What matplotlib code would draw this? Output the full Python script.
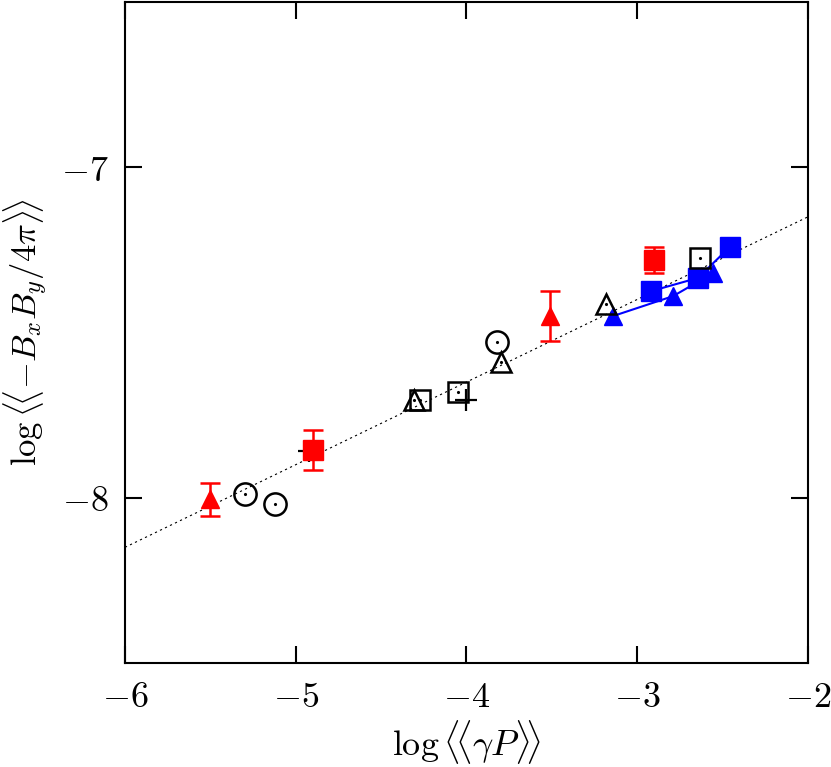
import numpy as np
import matplotlib
matplotlib.use("Agg")
import matplotlib.pyplot as plt

plt.rcParams['mathtext.fontset'] = 'cm'
plt.rcParams['font.family'] = 'serif'
plt.rcParams['font.serif'] = ['DejaVu Serif']

# red filled points with error bars
red_tri_x = [-5.50, -3.51]
red_tri_y = [-8.005, -7.45]
red_tri_err = [0.05, 0.075]
red_sq_x = [-4.90, -2.90]
red_sq_y = [-7.855, -7.28]
red_sq_err = [0.06, 0.04]

# black open points
circ_x = [-5.30, -5.12, -3.82]
circ_y = [-7.99, -8.02, -7.53]
otri_x = [-4.31, -3.80, -3.18]
otri_y = [-7.705, -7.59, -7.415]
osq_x = [-4.27, -4.05, -2.63]
osq_y = [-7.705, -7.68, -7.275]
plus_x = [-4.92, -4.00]
plus_y = [-7.86, -7.705]

# blue connected series
blue_sq_x = [-2.92, -2.645, -2.455]
blue_sq_y = [-7.375, -7.335, -7.24]
blue_tri_x = [-3.14, -2.79, -2.555]
blue_tri_y = [-7.45, -7.39, -7.32]

# dotted fit line
fit_slope = 0.25
fit_icpt = -6.65

fig = plt.figure(figsize=(8.31, 7.67), dpi=100)
ax = fig.add_axes([0.1504, 0.1356, 0.8219, 0.8618])

xx = np.array([-6, -2])
ax.plot(xx, fit_slope * xx + fit_icpt, ls=(0, (2, 3)), color='black', lw=0.8, zorder=1)

ax.plot(plus_x, plus_y, '+', color='black', ms=16, mew=1.6, zorder=2)

ax.errorbar(red_tri_x, red_tri_y, yerr=red_tri_err, fmt='^', color='red', ms=13,
            capsize=7, elinewidth=1.8, capthick=1.8, zorder=3)
ax.errorbar(red_sq_x, red_sq_y, yerr=red_sq_err, fmt='s', color='red', ms=14,
            capsize=7, elinewidth=1.8, capthick=1.8, zorder=3)

ax.plot(circ_x, circ_y, 'o', mfc='none', mec='black', ms=16, mew=1.8, zorder=4)
ax.plot(otri_x, otri_y, '^', mfc='none', mec='black', ms=14, mew=1.8, zorder=4)
ax.plot(osq_x, osq_y, 's', mfc='none', mec='black', ms=15, mew=1.8, zorder=4)
for xs, ys in [(circ_x, circ_y), (otri_x, otri_y), (osq_x, osq_y)]:
    ax.plot(xs, ys, '.', color='black', ms=2.5, zorder=5)

ax.plot(blue_tri_x, blue_tri_y, '-^', color='blue', ms=13, lw=1.5, zorder=3)
ax.plot(blue_sq_x, blue_sq_y, '-s', color='blue', ms=14, lw=1.5, zorder=3)

ax.set_xlim(-6, -2)
ax.set_ylim(-8.5, -6.5)
ax.set_xticks([-6, -5, -4, -3, -2])
ax.set_yticks([-8, -7])
ax.set_xticklabels([r'$-6$', r'$-5$', r'$-4$', r'$-3$', r'$-2$'])
ax.set_yticklabels([r'$-8$', r'$-7$'])
ax.tick_params(direction='in', length=12, width=1.5, top=True, right=True,
               labelsize=26, pad=12)
for s in ax.spines.values():
    s.set_linewidth(1.5)

fig.text(0.561, 0.033, r'$\log\langle\!\langle\gamma P\rangle\!\rangle$',
         fontsize=26, ha='center', va='center')
fig.text(0.031, 0.567, r'$\log\langle\!\langle {-B_xB_y}/4\pi\rangle\!\rangle$',
         fontsize=25, ha='center', va='center', rotation=90)

fig.savefig('out.png', dpi=100)
